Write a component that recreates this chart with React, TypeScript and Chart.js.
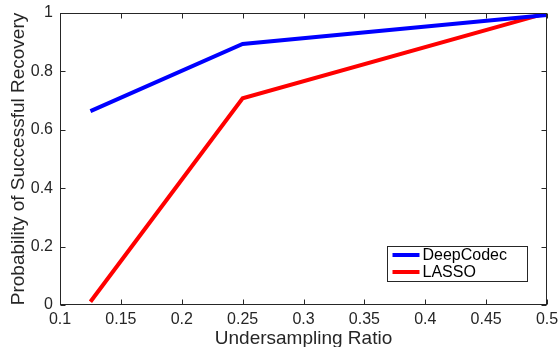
import React, { useEffect, useRef } from "react";
import { Chart, registerables } from "chart.js";

Chart.register(...registerables);

const ratios = [0.125, 0.25, 0.5];
const deepCodec = [0.664, 0.894, 0.993];
const lasso = [0.011, 0.708, 1.0];
const xTicks = [0.1, 0.15, 0.2, 0.25, 0.3, 0.35, 0.4, 0.45, 0.5];
const yTicks = [0, 0.2, 0.4, 0.6, 0.8, 1];
const seriesLabels = ["DeepCodec", "LASSO"];
const seriesColors = ["#0000ff", "#ff0000"];
const xTitle = "Undersampling Ratio";
const yTitle = "Probability of Successful Recovery";

const FONT = "'Liberation Sans', Arial, Helvetica, sans-serif";
const AXIS = "#262626";

const framePlugin = {
  id: "frame",
  afterDraw(chart: any) {
    const { ctx, chartArea: a, scales } = chart;
    const xs = scales.x;
    const ys = scales.y;
    ctx.save();
    ctx.strokeStyle = AXIS;
    ctx.lineWidth = 1;
    const L = Math.round(a.left) + 0.5;
    const R = Math.round(a.right) - 0.5;
    const T = Math.round(a.top) + 0.5;
    const B = Math.round(a.bottom) - 0.5;
    ctx.strokeRect(L, T, R - L, B - T);
    const tl = 5;
    ctx.beginPath();
    xTicks.forEach((v) => {
      const px = Math.round(xs.getPixelForValue(v)) + 0.5;
      ctx.moveTo(px, B);
      ctx.lineTo(px, B - tl);
      ctx.moveTo(px, T);
      ctx.lineTo(px, T + tl);
    });
    yTicks.forEach((v) => {
      const py = Math.round(ys.getPixelForValue(v)) + 0.5;
      ctx.moveTo(L, py);
      ctx.lineTo(L + tl, py);
      ctx.moveTo(R, py);
      ctx.lineTo(R - tl, py);
    });
    ctx.stroke();

    // legend box inside plot
    const bx = a.right - 159.5;
    const by = a.bottom - 58.5;
    const bw = 140;
    const bh = 35;
    ctx.fillStyle = "#ffffff";
    ctx.fillRect(bx, by, bw, bh);
    ctx.strokeStyle = AXIS;
    ctx.strokeRect(bx, by, bw, bh);
    ctx.font = `16px ${FONT}`;
    ctx.textBaseline = "middle";
    ctx.textAlign = "left";
    chart.data.datasets.forEach((ds: any, i: number) => {
      const cy = by + 8.5 + i * 17;
      ctx.strokeStyle = ds.borderColor;
      ctx.lineWidth = 4;
      ctx.beginPath();
      ctx.moveTo(bx + 5, cy);
      ctx.lineTo(bx + 32, cy);
      ctx.stroke();
      ctx.fillStyle = "#000000";
      ctx.fillText(ds.label, bx + 35, cy + 1);
    });
    ctx.restore();
  },
};

export default function App() {
  const ref = useRef<HTMLCanvasElement>(null);
  useEffect(() => {
    document.body.style.margin = "0";
    const canvas = ref.current!;
    const chart = new Chart(canvas, {
      type: "line",
      data: {
        datasets: [
          {
            label: seriesLabels[0],
            data: ratios.map((x, i) => ({ x, y: deepCodec[i] })),
            borderColor: seriesColors[0],
            backgroundColor: seriesColors[0],
            borderWidth: 4,
            pointRadius: 0,
            tension: 0,
          },
          {
            label: seriesLabels[1],
            data: ratios.map((x, i) => ({ x, y: lasso[i] })),
            borderColor: seriesColors[1],
            backgroundColor: seriesColors[1],
            borderWidth: 4,
            pointRadius: 0,
            tension: 0,
          },
        ],
      },
      options: {
        animation: false,
        responsive: false,
        maintainAspectRatio: false,
        layout: { padding: { top: 13, right: 11, left: 0, bottom: 0 } },
        plugins: {
          legend: { display: false },
          tooltip: { enabled: false },
        },
        scales: {
          x: {
            type: "linear",
            min: 0.1,
            max: 0.5,
            afterBuildTicks: (s: any) => {
              s.ticks = xTicks.map((v) => ({ value: v }));
            },
            afterFit: (s: any) => {
              s.height = 42;
              s.paddingLeft = 0;
              s.paddingRight = 0;
            },
            grid: { display: false, drawTicks: false },
            border: { display: false },
            ticks: {
              padding: 5,
              color: AXIS,
              font: { family: FONT, size: 16 },
              maxRotation: 0,
              autoSkip: false,
              callback: (v: any) => String(Number(v)),
            },
            title: {
              display: true,
              text: xTitle,
              color: AXIS,
              font: { family: FONT, size: 19 },
              padding: { top: 0, bottom: -3 },
            },
          },
          y: {
            type: "linear",
            min: 0,
            max: 1,
            afterBuildTicks: (s: any) => {
              s.ticks = yTicks.map((v) => ({ value: v }));
            },
            afterFit: (s: any) => {
              s.width = 60;
              s.paddingTop = 0;
              s.paddingBottom = 0;
            },
            grid: { display: false, drawTicks: false },
            border: { display: false },
            ticks: {
              padding: 7,
              color: AXIS,
              font: { family: FONT, size: 16 },
              autoSkip: false,
              callback: (v: any) => String(Number(v)),
            },
            title: {
              display: true,
              text: yTitle,
              color: AXIS,
              font: { family: FONT, size: 19 },
              padding: { top: 7, bottom: 0 },
            },
          },
        },
      },
      plugins: [framePlugin],
    } as any);
    return () => chart.destroy();
  }, []);
  return (
    <div style={{ width: 558, height: 347 }}>
      <canvas ref={ref} width={558} height={347} style={{ display: "block" }} />
    </div>
  );
}
